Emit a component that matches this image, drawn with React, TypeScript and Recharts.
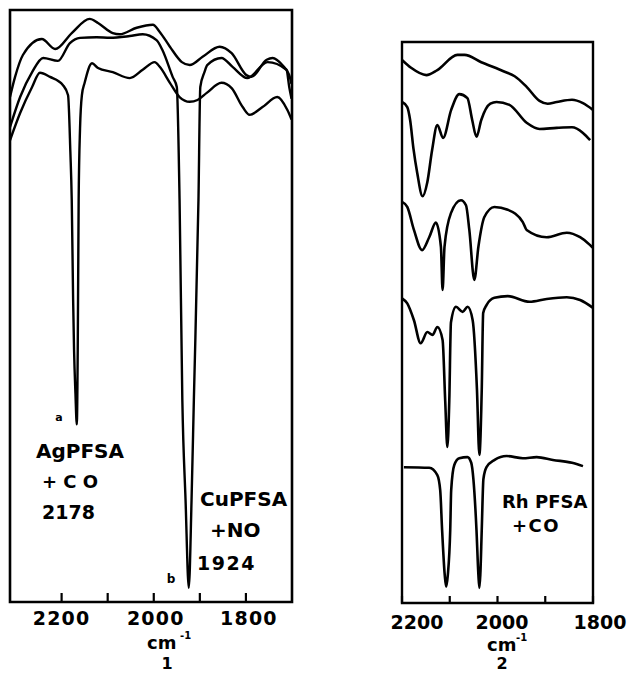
import React from 'react';
import { LineChart, Line, XAxis, YAxis, ReferenceArea } from 'recharts';

// ---------- Panel 1 (left): wavenumber (cm-1) vs relative transmittance (0 = axis, 100 = top frame)
const leftBackground: number[][] = [
  [2312, 85.3], [2301, 88.7], [2284, 92.4], [2243, 95.1], [2214, 93.4], [2178, 96.1], [2139, 98.5],
  [2121, 97.8], [2089, 96.1], [2074, 95.9], [2037, 97.0], [2002, 97.5], [1987, 96.3], [1965, 93.8],
  [1939, 91.2], [1922, 90.7], [1894, 92.1], [1857, 93.8], [1831, 92.7], [1799, 89.0], [1788, 88.7],
  [1755, 91.6], [1742, 91.9], [1721, 90.7], [1706, 89.0], [1701, 87.5],
];
const leftCuNO: number[][] = [
  [2312, 80.2], [2290, 85.3], [2264, 89.5], [2240, 91.9], [2208, 91.4], [2182, 94.4], [2160, 95.3],
  [2124, 95.4], [2095, 95.3], [2052, 95.6], [2024, 95.9], [1994, 94.9], [1981, 93.2], [1959, 88.7],
  [1950, 87.0], [1944, 67.9], [1938, 34.1], [1931, 17.2], [1924, 2.4], [1918, 17.2], [1913, 34.1],
  [1903, 67.9], [1899, 87.0], [1890, 89.5], [1884, 90.7], [1853, 91.9], [1829, 90.4], [1797, 88.5],
  [1753, 91.2], [1712, 89.9], [1706, 87.0], [1701, 85.0],
];
const leftAgCO: number[][] = [
  [2312, 78.0], [2290, 82.6], [2264, 87.0], [2247, 89.4], [2225, 88.7], [2197, 87.3], [2186, 85.6],
  [2181, 76.0], [2178, 67.9], [2175, 51.0], [2173, 42.6], [2170, 35.3], [2167, 30.0], [2165, 42.6],
  [2163, 67.9], [2160, 80.0], [2156, 85.6], [2150, 87.7], [2134, 91.0], [2121, 90.2], [2089, 89.5],
  [2052, 88.5], [2024, 89.9], [1998, 91.2], [1987, 90.4], [1965, 87.7], [1944, 85.3], [1922, 84.5],
  [1905, 84.8], [1885, 86.0], [1853, 87.7], [1831, 86.8], [1807, 83.6], [1792, 82.3], [1764, 83.6],
  [1732, 85.3], [1710, 83.1], [1701, 81.5],
];

// ---------- Panel 2 (right): RhPFSA + CO series
const rightTrace1: number[][] = [
  [2200, 96.8], [2181, 95.4], [2149, 94.1], [2126, 95.0], [2084, 97.7], [2069, 97.7], [2034, 96.4],
  [1985, 94.7], [1964, 93.9], [1939, 92.0], [1912, 89.5], [1895, 89.0], [1876, 89.3], [1844, 89.7],
  [1821, 89.1], [1800, 87.9],
];
const rightTrace2: number[][] = [
  [2200, 89.3], [2189, 88.4], [2183, 86.1], [2176, 81.0], [2168, 76.6], [2157, 72.5], [2147, 75.0],
  [2137, 80.7], [2126, 85.2], [2114, 82.9], [2097, 87.9], [2080, 90.7], [2063, 90.0], [2053, 86.1],
  [2044, 83.1], [2034, 86.1], [2015, 89.0], [2002, 89.3], [1975, 88.8], [1939, 85.6], [1912, 84.5],
  [1876, 84.7], [1844, 84.8], [1821, 83.8], [1806, 82.5],
];
const rightTrace3: number[][] = [
  [2200, 71.5], [2189, 70.6], [2175, 66.5], [2158, 62.9], [2143, 65.2], [2129, 67.8], [2118.5, 63.5],
  [2115, 55.8], [2111, 63.5], [2097.5, 69.5], [2076.5, 71.8], [2066, 70.9], [2059, 66.5], [2048.5, 57.6],
  [2040, 63.5], [2027.5, 68.8], [2006.5, 70.6], [1978.5, 70.1], [1947, 67.9], [1939, 66.5], [1897, 65.2],
  [1855, 66.0], [1827, 65.2], [1806, 63.8], [1800, 63.3],
];
const rightTrace4: number[][] = [
  [2200, 54.3], [2189, 53.4], [2175, 50.4], [2161, 46.3], [2147, 48.3], [2136, 47.8], [2126, 49.2],
  [2115, 46.9], [2109.5, 36.0], [2105, 27.8], [2101, 36.0], [2097.5, 50.0], [2087, 52.8], [2073, 51.9],
  [2062.5, 52.8], [2052, 50.4], [2043, 38.0], [2038, 26.4], [2033, 38.0], [2030, 51.7], [2023, 53.1],
  [2006.5, 54.4], [1978.5, 54.7], [1933, 53.7], [1897, 54.2], [1855, 54.5], [1827, 54.0], [1800, 52.6],
];
const rightTrace5: number[][] = [
  [2196, 24.2], [2143, 24.1], [2126, 22.8], [2120, 20.1], [2116, 13.0], [2110.5, 5.0], [2107.5, 2.9],
  [2104, 5.0], [2099, 13.0], [2097, 20.1], [2090.5, 24.6], [2080, 25.8], [2063, 26.0], [2055, 25.0],
  [2050.5, 22.1], [2044, 13.0], [2040, 5.0], [2038, 2.7], [2036, 5.0], [2033, 13.0], [2029.5, 22.1],
  [2023, 24.2], [2006, 25.5], [1981, 26.2], [1947, 25.8], [1918, 26.0], [1884, 25.5], [1844, 25.0],
  [1821, 24.4],
];

const LEFT_TICKS = [2200, 2100, 2000, 1900, 1800];
const LEFT_TICK_LABELS = ['2200', '', '2000', '', '1800'];
const RIGHT_TICKS = [2200, 2100, 2000, 1900, 1800];
const RIGHT_TICK_LABELS = ['2200', '', '2000', '', '1800'];

const LEFT_DOMAIN: [number, number] = [1700, 2312];
const RIGHT_DOMAIN: [number, number] = [1800, 2200];

const toPts = (arr: number[][]) => arr.map(([wn, v]) => ({ wn, v }));

const FONT = '"DejaVu Sans", "Liberation Sans", sans-serif';

function makeTick(
  ticks: number[],
  labels: string[],
  len: number,
  baseOff: number,
  fontSize: number,
  dxs: number[],
  ls: number
) {
  return (props: any) => {
    const { x, y, payload } = props;
    const i = ticks.indexOf(payload.value);
    const label = i >= 0 ? labels[i] : '';
    return (
      <g>
        <line x1={x} x2={x} y1={y} y2={y - len} stroke="#000" strokeWidth={2.2} />
        {label ? (
          <text
            x={x + (dxs[i] || 0)}
            y={y + baseOff}
            textAnchor="middle"
            fontFamily={FONT}
            fontWeight="bold"
            fontSize={fontSize}
            letterSpacing={ls}
            fill="#000"
          >
            {label}
          </text>
        ) : null}
      </g>
    );
  };
}

const LeftTick = makeTick(LEFT_TICKS, LEFT_TICK_LABELS, 9, 23, 19, [0, 0, 2, 0, 3], 1.2);
const RightTick = makeTick(RIGHT_TICKS, RIGHT_TICK_LABELS, 7, 26, 19, [15, 0, 4.5, 0, 7], 0);

const lineProps = {
  type: 'monotone' as const,
  dataKey: 'v',
  stroke: '#000',
  dot: false,
  activeDot: false,
  isAnimationActive: false,
  strokeLinejoin: 'round' as const,
};

export default function App() {
  const txt = (x: number, y: number, s: string, size: number, anchor: string = 'start', ls = 0) => (
    <text
      x={x}
      y={y}
      fontFamily={FONT}
      fontWeight="bold"
      fontSize={size}
      textAnchor={anchor as any}
      letterSpacing={ls}
      fill="#000"
    >
      {s}
    </text>
  );
  return (
    <div style={{ position: 'absolute', left: 0, top: 0, width: 631, height: 675, background: '#fff' }}>
      <div style={{ position: 'absolute', left: 0, top: 0 }}>
        <LineChart width={310} height={675} margin={{ top: 10, right: 18, bottom: 43, left: 10 }}>
          <XAxis
            type="number"
            dataKey="wn"
            domain={LEFT_DOMAIN}
            reversed
            allowDataOverflow
            ticks={LEFT_TICKS}
            interval={0}
            tick={LeftTick}
            tickLine={false}
            axisLine={false}
            tickSize={0}
            tickMargin={0}
            height={30}
          />
          <YAxis type="number" domain={[0, 100]} hide />
          <ReferenceArea
            x1={LEFT_DOMAIN[0]}
            x2={LEFT_DOMAIN[1]}
            y1={0}
            y2={100}
            fill="none"
            stroke="#000"
            strokeWidth={2.6}
            ifOverflow="visible"
          />
          <Line {...lineProps} data={toPts(leftBackground)} strokeWidth={2.4} />
          <Line {...lineProps} data={toPts(leftCuNO)} strokeWidth={2.4} />
          <Line {...lineProps} data={toPts(leftAgCO)} strokeWidth={2.4} />
        </LineChart>
      </div>
      <div style={{ position: 'absolute', left: 380, top: 0 }}>
        <LineChart width={251} height={675} margin={{ top: 42, right: 38, bottom: 42, left: 22 }}>
          <XAxis
            type="number"
            dataKey="wn"
            domain={RIGHT_DOMAIN}
            reversed
            allowDataOverflow
            ticks={RIGHT_TICKS}
            interval={0}
            tick={RightTick}
            tickLine={false}
            axisLine={false}
            tickSize={0}
            tickMargin={0}
            height={30}
          />
          <YAxis type="number" domain={[0, 100]} hide />
          <ReferenceArea
            x1={RIGHT_DOMAIN[0]}
            x2={RIGHT_DOMAIN[1]}
            y1={0}
            y2={100}
            fill="none"
            stroke="#000"
            strokeWidth={2.4}
            ifOverflow="visible"
          />
          <Line {...lineProps} data={toPts(rightTrace1)} strokeWidth={2.6} />
          <Line {...lineProps} data={toPts(rightTrace2)} strokeWidth={2.6} />
          <Line {...lineProps} data={toPts(rightTrace3)} strokeWidth={2.6} />
          <Line {...lineProps} data={toPts(rightTrace4)} strokeWidth={2.6} />
          <Line {...lineProps} data={toPts(rightTrace5)} strokeWidth={2.6} />
        </LineChart>
      </div>
      <svg
        width={631}
        height={675}
        style={{ position: 'absolute', left: 0, top: 0, pointerEvents: 'none' }}
      >
        {txt(59, 421, 'a', 11, 'middle')}
        {txt(36, 458, 'AgPFSA', 20)}
        {txt(42, 488, '+ C O', 18)}
        {txt(42, 519, '2178', 19)}
        {txt(200, 506, 'CuPFSA', 20)}
        {txt(210, 537, '+NO', 20)}
        {txt(197, 570, '1924', 19, 'start', 1.5)}
        {txt(171, 583, 'b', 12, 'middle')}
        {txt(147, 649, 'cm', 18)}
        {txt(180, 639, '-1', 10)}
        {txt(167, 669, '1', 16, 'middle')}
        {txt(502, 508, 'Rh PFSA', 18)}
        {txt(512, 532, '+CO', 18, 'start', 1.5)}
        {txt(487, 651, 'cm', 18)}
        {txt(516, 641, '-1', 10)}
        {txt(502, 669, '2', 16, 'middle')}
      </svg>
    </div>
  );
}
